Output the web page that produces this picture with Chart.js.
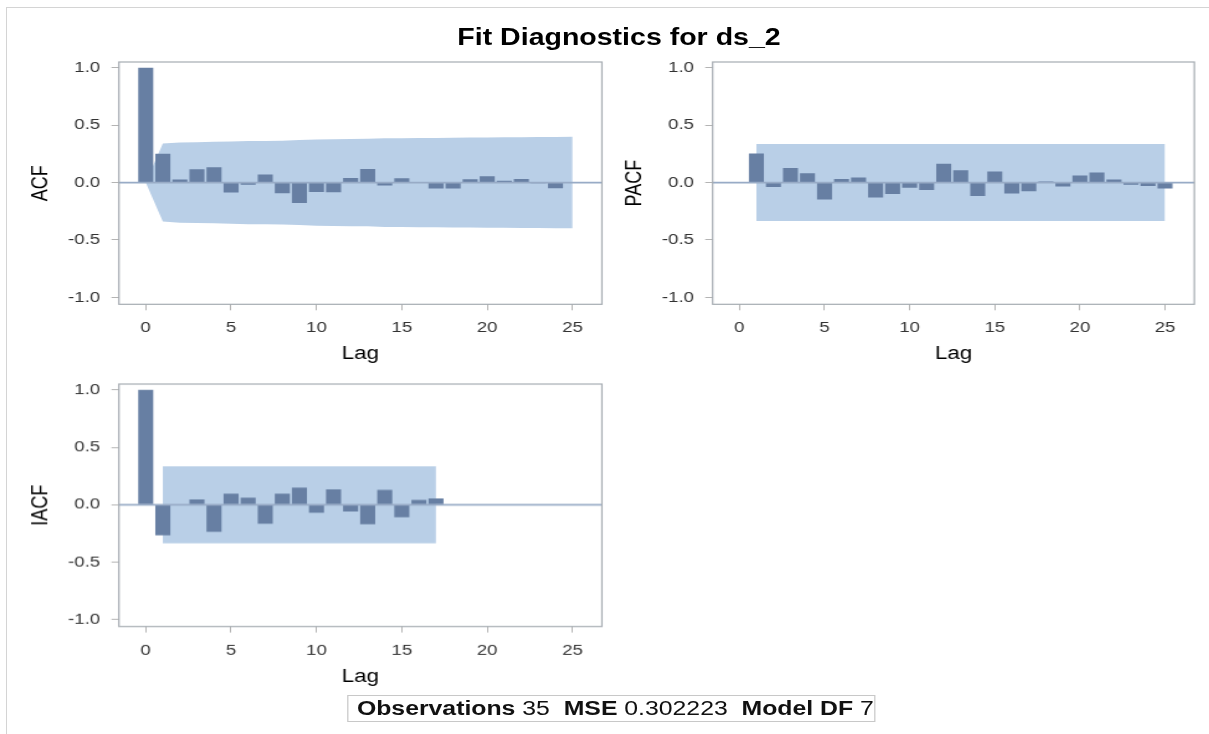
<!DOCTYPE html>
<html>
<head>
<meta charset="utf-8">
<title>Fit Diagnostics for ds_2</title>
<script src="https://cdn.jsdelivr.net/npm/chart.js@4.4.1/dist/chart.umd.min.js"></script>
<style>
  html, body { margin: 0; padding: 0; background: #fff; }
  body { width: 1209px; height: 734px; overflow: hidden; position: relative;
         font-family: "Liberation Sans", Arial, sans-serif; color: #000; }
  #edge { position: absolute; left: 6px; top: 7px; right: -10px; bottom: -10px;
          border-left: 1px solid #d4d4d4; border-top: 1px solid #d4d4d4; }
  /* the reference picture is stretched sideways, so the whole stage is too */
  #stage { position: absolute; left: 0; top: 0; width: 975px; height: 734px;
           transform: scaleX(1.24); transform-origin: 0 0; }
  .panel { position: absolute; }
  #title { position: absolute; top: 23px; line-height: 28px; font-size: 23px; font-weight: bold;
           white-space: nowrap; transform: translateX(-50%); }
  #stats { position: absolute; box-sizing: border-box; border: 1px solid #c8c8c8;
           font-size: 20px; line-height: 25px; white-space: nowrap; padding-left: 7px; color: #111; }
</style>
</head>
<body>
<div id="edge"></div>
<div id="stage">
  <div id="title">Fit Diagnostics for ds_2</div>
  <div class="panel" id="p-acf"><canvas id="c-acf"></canvas></div>
  <div class="panel" id="p-pacf"><canvas id="c-pacf"></canvas></div>
  <div class="panel" id="p-iacf"><canvas id="c-iacf"></canvas></div>
  <div id="stats"><b>Observations</b> 35&nbsp; <b>MSE</b> 0.302223&nbsp; <b>Model DF</b> 7</div>
</div>
<script>
// ---- data ----
const lagTicks = [0, 5, 10, 15, 20, 25];
const corrTicks = [-1.0, -0.5, 0.0, 0.5, 1.0];

const acfLags = [0, 1, 2, 3, 4, 5, 6, 7, 8, 9, 10, 11, 12, 13, 14, 15, 16, 17, 18, 19, 20, 21, 22, 23, 24];
const acfValues = [1.0, 0.25, 0.026, 0.116, 0.134, -0.087, -0.02, 0.07, -0.093, -0.177, -0.081, -0.084,
                   0.04, 0.119, -0.026, 0.038, 0.005, -0.052, -0.052, 0.03, 0.055, 0.015, 0.032, -0.005, -0.05];
const acfBandLags = [0, 1, 2, 3, 4, 5, 6, 7, 8, 9, 10, 11, 12, 13, 14, 15, 16, 17, 18, 19, 20, 21, 22, 23, 24, 25];
const acfBandUpper = [0, 0.34, 0.35, 0.352, 0.355, 0.358, 0.362, 0.363, 0.365, 0.37, 0.376, 0.378, 0.38,
                      0.381, 0.386, 0.387, 0.388, 0.389, 0.391, 0.392, 0.393, 0.394, 0.395, 0.396, 0.397, 0.398];
const acfBandLower = [0, -0.34, -0.35, -0.352, -0.355, -0.358, -0.362, -0.363, -0.365, -0.37, -0.376, -0.378, -0.38,
                      -0.381, -0.386, -0.387, -0.388, -0.389, -0.391, -0.392, -0.393, -0.394, -0.395, -0.396, -0.397, -0.398];

const pacfLags = [1, 2, 3, 4, 5, 6, 7, 8, 9, 10, 11, 12, 13, 14, 15, 16, 17, 18, 19, 20, 21, 22, 23, 24, 25];
const pacfValues = [0.253, -0.038, 0.128, 0.082, -0.148, 0.032, 0.044, -0.131, -0.099, -0.044, -0.064, 0.163,
                    0.108, -0.116, 0.096, -0.096, -0.076, 0.01, -0.035, 0.061, 0.087, 0.026, -0.02, -0.03, -0.052];
const pacfBandLags = [1, 25];
const pacfBandUpper = [0.335, 0.335];
const pacfBandLower = [-0.335, -0.335];

const iacfLags = [0, 1, 2, 3, 4, 5, 6, 7, 8, 9, 10, 11, 12, 13, 14, 15, 16, 17];
const iacfValues = [1.0, -0.265, 0.004, 0.047, -0.236, 0.096, 0.061, -0.166, 0.096, 0.149, -0.07, 0.134,
                    -0.058, -0.169, 0.128, -0.108, 0.041, 0.055];
const iacfBandLags = [1, 17];
const iacfBandUpper = [0.335, 0.335];
const iacfBandLower = [-0.335, -0.335];

// ---- look ----
const SX = 1.24;
const BAR = '#677fa3';
const BAND = '#b9cfe7';
const ZERO = '#98abc6';
const FRAME = '#a6acb2';
const TICK = '#b4b4b4';
// canvas starts PAD_T above the frame; chart.js adds ~9px for the top tick label itself
const AXIS_W = 110, PAD_T = 17, PAD_R = 8, AXIS_H = 70;

Chart.defaults.font.family = '"Liberation Sans", Arial, sans-serif';

// frames of the three plots, in picture pixels
const frames = {
  acf:  { l: 118.5, t: 60.7,  r: 600.5, b: 304 },
  pacf: { l: 712.3, t: 60.7,  r: 1194,  b: 304 },
  iacf: { l: 118.5, t: 383.3, r: 600.5, b: 626 }
};

function place(el, x, y, w, h) {
  el.style.left = (x / SX) + 'px';
  el.style.top = y + 'px';
  if (w != null) el.style.width = (w / SX) + 'px';
  if (h != null) el.style.height = h + 'px';
}

const frameAndZero = {
  id: 'frameAndZero',
  afterDatasetsDraw(chart) {
    const { ctx, chartArea: a, scales: { y } } = chart;
    const y0 = y.getPixelForValue(0);
    ctx.save();
    ctx.strokeStyle = ZERO;
    ctx.lineWidth = 1.8;
    ctx.beginPath();
    ctx.moveTo(a.left, y0);
    ctx.lineTo(a.right, y0);
    ctx.stroke();
    ctx.strokeStyle = FRAME;
    ctx.lineWidth = 1.2;
    ctx.strokeRect(a.left, a.top, a.right - a.left, a.bottom - a.top);
    ctx.restore();
  }
};

function points(xs, ys) {
  return xs.map((x, i) => ({ x: x, y: ys[i] }));
}

function makePanel(key, yTitle, lags, values, bandLags, bandUp, bandLo) {
  const f = frames[key];
  const left = f.l - AXIS_W, top = f.t - PAD_T;
  place(document.getElementById('p-' + key), left, top, f.r + PAD_R - left, f.b + AXIS_H - top);

  return new Chart(document.getElementById('c-' + key), {
    type: 'bar',
    data: {
      datasets: [
        { type: 'bar', data: points(lags, values), backgroundColor: BAR, borderWidth: 0,
          barPercentage: 0.88, categoryPercentage: 1, order: 0 },
        { type: 'line', data: points(bandLags, bandUp), fill: '+1', backgroundColor: BAND,
          borderColor: 'rgba(0,0,0,0)', borderWidth: 0, pointRadius: 0, tension: 0, order: 2 },
        { type: 'line', data: points(bandLags, bandLo), fill: false,
          borderColor: 'rgba(0,0,0,0)', borderWidth: 0, pointRadius: 0, tension: 0, order: 3 }
      ]
    },
    options: {
      responsive: true,
      maintainAspectRatio: false,
      animation: false,
      events: [],
      layout: { padding: { left: 0, top: PAD_T - 9, right: PAD_R / SX, bottom: 0 } },
      plugins: { legend: { display: false }, tooltip: { enabled: false } },
      scales: {
        x: {
          type: 'linear', min: -1.57, max: 26.72, offset: false,
          afterBuildTicks: s => { s.ticks = lagTicks.map(v => ({ value: v })); },
          afterFit: s => { s.height = AXIS_H; },
          grid: { offset: false, drawOnChartArea: false, drawTicks: true, tickLength: 6, color: TICK },
          border: { display: false },
          ticks: { padding: 9, maxRotation: 0, autoSkip: false, color: '#333', font: { size: 15 },
                   callback: v => String(v) },
          title: { display: true, text: 'Lag', color: '#000', font: { size: 18 }, padding: { top: 0, bottom: 9.2 } }
        },
        y: {
          min: -1.06, max: 1.05,
          afterBuildTicks: s => { s.ticks = corrTicks.map(v => ({ value: v })); },
          afterFit: s => { s.width = AXIS_W / SX; },
          grid: { drawOnChartArea: false, drawTicks: true, tickLength: 6, color: TICK },
          border: { display: false },
          ticks: { padding: 9, color: '#333', font: { size: 15 }, callback: v => Number(v).toFixed(1) },
          title: { display: true, text: yTitle, color: '#000', font: { size: 18 }, padding: { top: 15, bottom: 0 } }
        }
      }
    },
    plugins: [frameAndZero]
  });
}

// title and stats box
const title = document.getElementById('title');
title.style.left = (619 / SX) + 'px';
place(document.getElementById('stats'), 347, 695, 876 - 347, 27);

makePanel('acf', 'ACF', acfLags, acfValues, acfBandLags, acfBandUpper, acfBandLower);
makePanel('pacf', 'PACF', pacfLags, pacfValues, pacfBandLags, pacfBandUpper, pacfBandLower);
makePanel('iacf', 'IACF', iacfLags, iacfValues, iacfBandLags, iacfBandUpper, iacfBandLower);
</script>
</body>
</html>
